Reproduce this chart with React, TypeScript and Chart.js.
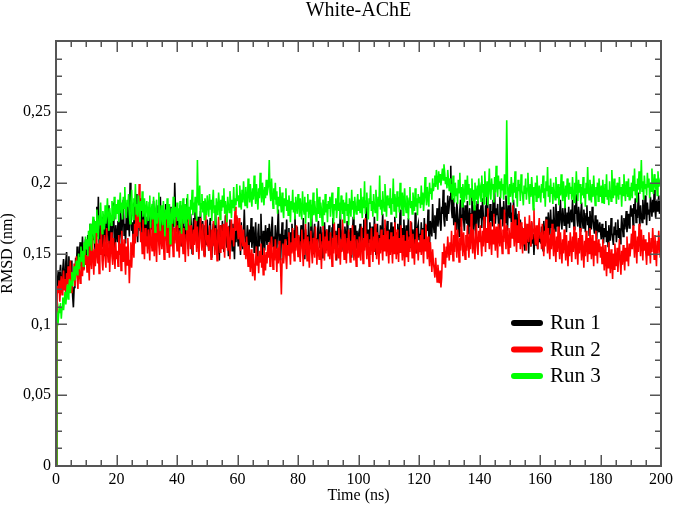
import { useEffect, useRef } from 'react';
import { Chart, registerables } from 'chart.js';

Chart.register(...registerables);

const TITLE = 'White-AChE';
const X_LABEL = 'Time (ns)';
const Y_LABEL = 'RMSD (nm)';
const SERIES_NAMES = ['Run 1', 'Run 2', 'Run 3'];
const SERIES_COLORS = ['#000000', '#ff0000', '#00ff00'];

const X_TICKS = [0, 20, 40, 60, 80, 100, 120, 140, 160, 180, 200];
const X_TICK_LABELS = ['0', '20', '40', '60', '80', '100', '120', '140', '160', '180', '200'];
const Y_TICKS = [0, 0.05, 0.1, 0.15, 0.2, 0.25, 0.3];
const Y_TICK_LABELS = ['0', '0,05', '0,1', '0,15', '0,2', '0,25', ''];

// Sampling interval of the trajectory frames (ns)
const TIME_STEP_NS = 0.25;

// RMSD per frame in picometres (0.001 nm), frame 0 first; one row per 10 ns
const RUN1_PM = [
  0,
  124, 131, 138, 129, 135, 142, 133, 127, 139, 146, 137, 130, 144, 151, 136, 141, 148, 139, 132, 145,
  138, 120, 112, 126, 134, 147, 140, 155, 143, 136, 150, 158, 141, 147, 162, 149, 139, 153, 160, 146,
  152, 163, 147, 158, 171, 155, 149, 166, 160, 174, 157, 151, 168, 183, 162, 190, 158, 149, 170, 163,
  155, 176, 161, 148, 169, 180, 158, 166, 184, 159, 153, 172, 165, 157, 177, 186, 161, 152, 170, 164,
  158, 173, 166, 152, 181, 169, 160, 177, 188, 163, 171, 157, 179, 167, 184, 174, 162, 200, 178, 166,
  172, 159, 186, 176, 163, 192, 170, 158, 181, 174, 166, 189, 177, 160, 172, 183, 168, 157, 176, 165,
  163, 178, 170, 156, 182, 167, 174, 160, 187, 172, 165, 179, 158, 170, 184, 163, 176, 190, 168, 155,
  173, 181, 162, 170, 185, 159, 175, 168, 154, 178, 166, 183, 172, 160, 177, 169, 200, 181, 165, 172,
  176, 161, 170, 184, 166, 155, 172, 180, 163, 169, 158, 177, 189, 165, 153, 171, 162, 178, 168, 150,
  166, 175, 160, 181, 171, 157, 168, 176, 152, 164, 180, 167, 158, 173, 162, 149, 170, 165, 156, 174,
  160, 152, 168, 175, 158, 147, 165, 171, 156, 163, 180, 161, 150, 167, 158, 145, 170, 162, 155, 173,
  164, 151, 159, 177, 166, 154, 162, 148, 169, 174, 157, 163, 152, 171, 160, 146, 166, 158, 176, 163,
  155, 168, 161, 149, 172, 159, 153, 165, 181, 162, 150, 157, 170, 163, 146, 167, 158, 175, 154, 161,
  169, 151, 160, 172, 157, 148, 164, 171, 155, 162, 178, 159, 147, 166, 160, 152, 170, 163, 156, 168,
  158, 171, 163, 150, 167, 176, 155, 162, 149, 170, 160, 153, 168, 181, 157, 164, 145, 161, 172, 156,
  163, 150, 167, 159, 174, 154, 161, 168, 148, 165, 158, 171, 162, 151, 166, 177, 157, 160, 169, 155,
  162, 149, 157, 170, 164, 153, 175, 160, 146, 167, 158, 163, 151, 172, 160, 155, 168, 179, 157, 150,
  164, 171, 156, 161, 148, 166, 173, 159, 154, 169, 161, 147, 165, 158, 172, 163, 152, 167, 160, 156,
  170, 157, 163, 151, 168, 175, 160, 154, 166, 158, 145, 162, 171, 156, 164, 180, 159, 152, 167, 161,
  155, 169, 163, 150, 173, 158, 165, 153, 168, 161, 147, 164, 176, 157, 162, 170, 154, 166, 159, 163,
  156, 171, 164, 152, 168, 160, 174, 157, 163, 183, 161, 150, 167, 158, 172, 165, 153, 169, 160, 155,
  176, 162, 149, 166, 171, 157, 163, 154, 170, 159, 165, 178, 156, 161, 168, 152, 164, 173, 158, 162,
  167, 155, 172, 160, 151, 169, 163, 176, 158, 165, 150, 171, 161, 157, 181, 164, 153, 168, 159, 174,
  162, 156, 170, 148, 166, 175, 160, 163, 154, 172, 158, 167, 161, 155, 179, 163, 150, 168, 171, 160,
  164, 157, 172, 160, 168, 153, 175, 163, 158, 170, 166, 181, 161, 156, 173, 168, 162, 185, 171, 165,
  177, 160, 174, 182, 169, 176, 189, 172, 166, 183, 178, 195, 174, 169, 186, 180, 173, 191, 178, 184,
  190, 212, 181, 175, 189, 170, 183, 176, 167, 186, 179, 173, 162, 181, 188, 169, 177, 190, 174, 166,
  184, 178, 171, 187, 164, 175, 182, 169, 178, 193, 171, 166, 184, 176, 162, 179, 187, 172, 168, 181,
  175, 184, 168, 189, 177, 171, 163, 184, 176, 192, 170, 178, 166, 185, 173, 180, 169, 188, 176, 194,
  171, 182, 177, 185, 172, 166, 190, 179, 174, 183, 169, 187, 177, 172, 191, 178, 166, 184, 180, 175,
  186, 172, 179, 168, 188, 175, 165, 182, 171, 163, 178, 170, 158, 174, 166, 169, 155, 167, 160, 152,
  171, 163, 158, 166, 150, 168, 161, 155, 172, 157, 164, 149, 162, 168, 156, 160, 153, 170, 158, 164,
  157, 169, 162, 152, 173, 164, 158, 176, 167, 161, 179, 170, 163, 181, 168, 174, 160, 183, 172, 166,
  185, 175, 169, 180, 164, 177, 188, 172, 167, 182, 176, 170, 186, 174, 165, 179, 171, 183, 168, 177,
  181, 172, 188, 176, 167, 184, 178, 192, 174, 169, 183, 177, 166, 179, 186, 173, 168, 181, 175, 165,
  178, 184, 170, 176, 163, 180, 172, 167, 183, 175, 169, 164, 177, 171, 160, 174, 168, 165, 172, 166,
  160, 171, 164, 157, 168, 162, 173, 158, 166, 155, 170, 163, 159, 175, 165, 161, 156, 169, 163, 172,
  158, 166, 174, 161, 168, 157, 164, 177, 169, 162, 175, 167, 171, 180, 165, 173, 178, 168, 176, 184,
  176, 182, 170, 185, 178, 189, 172, 181, 175, 193, 180, 169, 184, 177, 172, 188, 179, 174, 191, 183,
  170, 186, 178, 181, 173, 190, 184, 176, 188, 179, 195, 182, 175, 187, 180, 184, 191, 178, 186, 188,
];

const RUN2_PM = [
  0,
  118, 127, 122, 131, 116, 125, 134, 121, 129, 138, 124, 132, 119, 136, 128, 141, 126, 133, 145, 130,
  122, 137, 131, 143, 127, 139, 148, 133, 125, 144, 136, 129, 151, 140, 134, 146, 138, 155, 142, 149,
  137, 152, 144, 131, 158, 146, 139, 162, 148, 135, 153, 141, 166, 150, 143, 157, 136, 160, 149, 171,
  145, 138, 156, 163, 147, 140, 168, 152, 144, 159, 137, 154, 165, 148, 142, 161, 150, 139, 158, 146,
  152, 141, 163, 149, 157, 138, 166, 151, 144, 160, 147, 135, 155, 142, 161, 150, 129, 145, 158, 140,
  153, 164, 147, 171, 157, 183, 162, 176, 168, 199, 172, 158, 165, 150, 174, 161, 146, 168, 155, 162,
  150, 167, 158, 145, 172, 160, 152, 176, 163, 148, 169, 157, 144, 165, 178, 156, 149, 170, 161, 153,
  174, 159, 146, 167, 180, 162, 151, 171, 158, 147, 166, 155, 173, 160, 148, 168, 157, 175, 163, 152,
  170, 158, 147, 166, 155, 176, 161, 150, 168, 157, 144, 163, 172, 159, 148, 179, 165, 153, 170, 160,
  149, 167, 156, 174, 162, 151, 169, 158, 146, 164, 175, 160, 152, 171, 157, 148, 166, 178, 161, 155,
  163, 152, 170, 158, 146, 167, 155, 173, 161, 149, 168, 157, 145, 164, 176, 159, 151, 170, 162, 153,
  171, 158, 147, 166, 178, 162, 152, 169, 157, 146, 165, 174, 160, 168, 155, 172, 183, 166, 177, 169,
  160, 175, 165, 152, 170, 161, 155, 167, 149, 158, 146, 162, 151, 141, 156, 147, 137, 153, 143, 134,
  150, 139, 131, 145, 155, 142, 148, 136, 152, 144, 157, 140, 149, 135, 154, 146, 138, 151, 143, 156,
  147, 158, 141, 153, 162, 148, 139, 155, 145, 160, 150, 137, 154, 143, 159, 148, 140, 121, 146, 157,
  143, 152, 160, 147, 139, 156, 149, 165, 153, 142, 158, 150, 168, 155, 145, 161, 152, 170, 157, 148,
  163, 150, 144, 158, 167, 153, 141, 160, 149, 171, 157, 145, 162, 152, 140, 158, 166, 151, 143, 161,
  155, 147, 169, 156, 142, 160, 151, 146, 164, 153, 139, 158, 170, 154, 145, 162, 150, 167, 156, 148,
  159, 146, 165, 153, 141, 161, 150, 172, 157, 145, 163, 152, 147, 168, 155, 142, 160, 151, 174, 158,
  146, 164, 153, 143, 161, 150, 167, 156, 144, 159, 149, 170, 157, 145, 163, 151, 141, 160, 154, 147,
  162, 150, 145, 169, 156, 143, 161, 152, 175, 158, 146, 164, 153, 141, 160, 149, 168, 155, 144, 162,
  151, 171, 157, 146, 165, 154, 142, 161, 150, 167, 156, 145, 163, 152, 174, 159, 148, 166, 155, 143,
  160, 149, 165, 154, 143, 162, 150, 172, 158, 146, 167, 155, 144, 161, 151, 170, 157, 145, 163, 152,
  141, 159, 148, 166, 155, 144, 162, 151, 173, 158, 147, 164, 153, 142, 160, 150, 168, 156, 145, 158,
  151, 163, 149, 167, 155, 143, 160, 152, 171, 157, 146, 162, 150, 141, 158, 148, 137, 153, 144, 139,
  133, 147, 138, 130, 142, 135, 129, 138, 126, 133, 151, 143, 157, 148, 140, 155, 147, 162, 152, 145,
  158, 149, 166, 155, 145, 163, 151, 172, 159, 147, 167, 156, 144, 161, 152, 175, 160, 148, 165, 154,
  146, 163, 152, 170, 158, 147, 164, 153, 178, 161, 150, 167, 157, 146, 162, 171, 155, 149, 166, 158,
  170, 157, 148, 166, 155, 176, 162, 151, 168, 158, 182, 165, 153, 172, 160, 149, 167, 157, 178, 163,
  152, 169, 159, 147, 171, 161, 155, 174, 160, 150, 167, 158, 181, 164, 153, 170, 162, 150, 168, 159,
  154, 172, 161, 184, 166, 155, 174, 162, 151, 170, 158, 180, 165, 153, 172, 161, 150, 168, 157, 176,
  163, 152, 171, 164, 158, 177, 166, 155, 173, 160, 167, 182, 162, 156, 170, 159, 153, 168, 175, 161,
  165, 153, 171, 159, 148, 166, 155, 174, 161, 150, 168, 156, 146, 164, 153, 171, 159, 148, 167, 155,
  144, 162, 151, 169, 157, 146, 165, 154, 143, 160, 150, 167, 156, 145, 163, 152, 141, 159, 148, 165,
  155, 144, 162, 151, 169, 157, 146, 165, 154, 142, 161, 150, 168, 156, 145, 163, 152, 140, 159, 148,
  166, 155, 144, 161, 150, 168, 157, 146, 163, 153, 141, 159, 149, 166, 154, 143, 160, 151, 157, 147,
  155, 143, 160, 149, 138, 156, 145, 134, 151, 140, 158, 147, 136, 153, 143, 132, 150, 139, 157, 146,
  141, 154, 137, 148, 160, 144, 135, 152, 142, 156, 147, 138, 154, 145, 162, 150, 141, 157, 148, 155,
  164, 153, 170, 158, 147, 166, 155, 143, 162, 151, 171, 159, 148, 167, 156, 145, 163, 152, 160, 150,
  142, 158, 149, 165, 154, 143, 161, 151, 168, 157, 146, 163, 152, 141, 159, 150, 166, 155, 147, 151,
];

const RUN3_PM = [
  0,
  100, 106, 103, 111, 108, 115, 104, 112, 119, 110, 117, 123, 114, 121, 128, 118, 126, 132, 122, 130,
  137, 127, 134, 141, 131, 138, 145, 135, 143, 150, 139, 147, 155, 144, 152, 141, 158, 149, 162, 153,
  160, 148, 166, 155, 171, 159, 152, 168, 176, 163, 157, 173, 165, 181, 168, 160, 177, 170, 186, 172,
  164, 180, 174, 167, 184, 171, 178, 189, 175, 166, 182, 176, 170, 187, 179, 173, 190, 181, 174, 185,
  178, 188, 172, 184, 193, 179, 186, 174, 190, 182, 197, 180, 175, 188, 183, 192, 177, 171, 186, 195,
  181, 174, 189, 183, 199, 178, 185, 176, 191, 184, 172, 187, 180, 194, 176, 183, 189, 171, 182, 187,
  180, 173, 186, 191, 168, 179, 185, 174, 190, 177, 165, 182, 188, 171, 178, 193, 174, 166, 184, 179,
  170, 187, 176, 162, 181, 174, 189, 168, 178, 185, 157, 175, 182, 171, 190, 178, 169, 183, 176, 186,
  173, 182, 168, 187, 176, 164, 180, 189, 171, 178, 185, 167, 179, 192, 174, 183, 170, 188, 181, 195,
  177, 186, 179, 190, 181, 173, 216, 188, 184, 198, 176, 185, 192, 179, 187, 174, 189, 183, 177, 191,
  184, 176, 192, 181, 188, 173, 186, 195, 179, 184, 170, 189, 182, 177, 193, 185, 174, 188, 180, 191,
  183, 196, 178, 187, 181, 172, 190, 184, 179, 194, 186, 175, 188, 182, 197, 180, 189, 184, 199, 187,
  191, 183, 198, 188, 181, 195, 186, 201, 190, 184, 197, 187, 182, 203, 192, 186, 199, 190, 183, 196,
  188, 205, 193, 185, 199, 190, 181, 196, 189, 207, 194, 186, 200, 192, 184, 197, 189, 202, 191, 195,
  198, 216, 193, 187, 203, 191, 182, 196, 188, 200, 185, 194, 178, 190, 184, 197, 186, 179, 193, 182,
  175, 189, 184, 196, 180, 188, 177, 191, 185, 172, 187, 181, 195, 179, 186, 174, 190, 183, 178, 192,
  185, 176, 189, 181, 174, 194, 183, 178, 190, 171, 186, 180, 192, 175, 184, 188, 169, 182, 179, 193,
  177, 187, 181, 173, 196, 184, 178, 190, 175, 186, 181, 170, 188, 183, 177, 192, 179, 185, 172, 187,
  182, 190, 176, 187, 193, 179, 171, 185, 181, 189, 175, 183, 197, 180, 186, 174, 191, 184, 178, 188,
  172, 186, 180, 193, 177, 185, 170, 189, 183, 176, 195, 181, 187, 174, 190, 182, 178, 186, 192, 180,
  188, 179, 196, 184, 175, 190, 182, 201, 178, 187, 193, 181, 174, 189, 185, 198, 180, 187, 176, 192,
  184, 179, 195, 186, 173, 190, 183, 205, 181, 188, 177, 194, 185, 180, 199, 187, 176, 191, 184, 189,
  182, 196, 178, 189, 185, 203, 180, 192, 187, 175, 194, 183, 190, 179, 200, 186, 181, 193, 177, 188,
  196, 184, 179, 191, 186, 174, 189, 197, 182, 187, 178, 193, 185, 180, 196, 183, 189, 177, 192, 186,
  190, 182, 198, 185, 193, 180, 188, 204, 191, 184, 197, 189, 183, 200, 192, 196, 188, 203, 194, 199,
  205, 197, 209, 201, 195, 208, 200, 206, 198, 204, 210, 202, 213, 207, 199, 204, 196, 209, 201, 194,
  203, 193, 199, 188, 205, 194, 186, 200, 191, 196, 185, 202, 193, 207, 189, 197, 183, 199, 191, 186,
  202, 194, 188, 205, 192, 199, 184, 196, 190, 203, 187, 195, 181, 200, 192, 188, 198, 185, 203, 193,
  196, 187, 205, 193, 199, 185, 208, 195, 190, 201, 184, 197, 210, 192, 188, 203, 195, 199, 186, 204,
  193, 212, 198, 190, 205, 196, 201, 189, 203, 195, 199, 188, 206, 192, 198, 244, 202, 185, 194, 199,
  190, 204, 196, 186, 200, 193, 208, 189, 197, 183, 202, 194, 199, 187, 206, 195, 191, 184, 198, 192,
  203, 188, 196, 207, 193, 185, 199, 190, 204, 195, 181, 197, 191, 200, 187, 205, 193, 189, 198, 192,
  186, 199, 193, 205, 189, 196, 183, 201, 194, 211, 190, 198, 186, 203, 192, 197, 185, 200, 193, 188,
  204, 195, 189, 199, 184, 197, 191, 206, 194, 187, 201, 193, 182, 198, 190, 203, 195, 188, 200, 192,
  197, 188, 204, 193, 186, 200, 191, 208, 195, 187, 202, 193, 199, 185, 197, 191, 204, 189, 196, 183,
  200, 192, 211, 194, 188, 202, 195, 186, 199, 190, 205, 193, 184, 197, 191, 200, 187, 203, 194, 190,
  198, 186, 202, 193, 185, 199, 190, 206, 188, 195, 184, 201, 193, 187, 209, 196, 189, 203, 191, 198,
  185, 200, 194, 188, 204, 192, 197, 183, 199, 191, 206, 194, 187, 201, 195, 190, 203, 188, 197, 193,
  200, 189, 205, 194, 210, 191, 199, 186, 203, 195, 208, 192, 198, 216, 194, 201, 188, 205, 196, 199,
  191, 207, 197, 203, 189, 200, 194, 210, 198, 192, 206, 199, 195, 203, 191, 208, 197, 201, 199, 202,
];

const SERIES_PM = [RUN1_PM, RUN2_PM, RUN3_PM];

const FONT_FAMILY = "'Liberation Serif', 'Times New Roman', Times, serif";
const AXIS_COLOR = '#555555';
const MINOR_DIVISIONS = 4;

// Frame around the plot with inward-pointing major and minor ticks on all four sides
const frameTicksPlugin = {
  id: 'frameTicks',
  afterDatasetsDraw(chart: any) {
    const { ctx, chartArea } = chart;
    const { left, right, top, bottom } = chartArea;
    const xs = chart.scales.x;
    const ys = chart.scales.y;
    const majorLen = 11;
    const minorLen = 6;

    const line = (x1: number, y1: number, x2: number, y2: number) => {
      ctx.beginPath();
      ctx.moveTo(x1, y1);
      ctx.lineTo(x2, y2);
      ctx.stroke();
    };
    const minorValues = (ticks: number[]) => {
      const out: number[] = [];
      for (let i = 0; i < ticks.length - 1; i++) {
        const a = ticks[i];
        const b = ticks[i + 1];
        for (let k = 1; k < MINOR_DIVISIONS; k++) out.push(a + ((b - a) * k) / MINOR_DIVISIONS);
      }
      return out;
    };

    ctx.save();
    ctx.strokeStyle = AXIS_COLOR;
    ctx.lineWidth = 1.5;

    const xTick = (v: number, len: number) => {
      const px = Math.round(xs.getPixelForValue(v)) + 0.25;
      line(px, bottom, px, bottom - len);
      line(px, top, px, top + len);
    };
    const yTick = (v: number, len: number) => {
      const py = Math.round(ys.getPixelForValue(v)) + 0.25;
      line(left, py, left + len, py);
      line(right, py, right - len, py);
    };
    X_TICKS.forEach((v) => xTick(v, majorLen));
    minorValues(X_TICKS).forEach((v) => xTick(v, minorLen));
    Y_TICKS.forEach((v) => yTick(v, majorLen));
    minorValues(Y_TICKS).forEach((v) => yTick(v, minorLen));

    ctx.lineWidth = 2;
    ctx.strokeRect(left, top, right - left, bottom - top);
    ctx.restore();
  },
};

// Legend inside the plot, lower right, with thick rounded line samples
const insideLegendPlugin = {
  id: 'insideLegend',
  afterDraw(chart: any) {
    const { ctx, chartArea } = chart;
    const x0 = chartArea.right - 147;
    const y0 = chartArea.top + 282;
    const rowGap = 26.5;
    ctx.save();
    ctx.font = `21px ${FONT_FAMILY}`;
    ctx.textBaseline = 'middle';
    ctx.textAlign = 'left';
    chart.data.datasets.forEach((ds: any, i: number) => {
      const y = y0 + i * rowGap;
      ctx.strokeStyle = ds.borderColor;
      ctx.lineWidth = 6;
      ctx.lineCap = 'round';
      ctx.beginPath();
      ctx.moveTo(x0, y);
      ctx.lineTo(x0 + 26, y);
      ctx.stroke();
      ctx.fillStyle = '#000';
      ctx.fillText(ds.label, x0 + 36, y + 0.5);
    });
    ctx.restore();
  },
};

export default function App() {
  const canvasRef = useRef<HTMLCanvasElement | null>(null);

  useEffect(() => {
    if (!canvasRef.current) return;
    const datasets = SERIES_PM.map((values, s) => ({
      label: SERIES_NAMES[s],
      data: values.map((pm, i) => ({ x: i * TIME_STEP_NS, y: pm / 1000 })),
      borderColor: SERIES_COLORS[s],
      backgroundColor: SERIES_COLORS[s],
      borderWidth: 1.6,
      pointRadius: 0,
      tension: 0,
      fill: false,
      order: SERIES_PM.length - 1 - s,
    }));

    const tickFont = { family: FONT_FAMILY, size: 16 };
    const chart = new Chart(canvasRef.current, {
      type: 'line',
      data: { datasets },
      options: {
        responsive: false,
        animation: false,
        devicePixelRatio: 1,
        layout: { padding: { left: 0, right: 14, top: 0, bottom: 0 } },
        plugins: {
          legend: { display: false },
          tooltip: { enabled: false },
          title: {
            display: true,
            text: TITLE,
            color: '#000',
            fullSize: false,
            font: { family: FONT_FAMILY, size: 20, weight: 'normal', lineHeight: 0.85 },
            padding: { top: 2, bottom: 22 },
          },
        },
        scales: {
          x: {
            type: 'linear',
            min: 0,
            max: 200,
            afterBuildTicks: (scale: any) => {
              scale.ticks = X_TICKS.map((value) => ({ value }));
            },
            afterFit: (scale: any) => {
              scale.height = 40;
            },
            ticks: {
              autoSkip: false,
              maxRotation: 0,
              padding: 4,
              color: '#000',
              font: tickFont,
              callback: (_v: any, i: number) => X_TICK_LABELS[i],
            },
            grid: { display: false, drawTicks: false },
            border: { display: false },
            title: {
              display: true,
              text: X_LABEL,
              color: '#000',
              font: { family: FONT_FAMILY, size: 16, lineHeight: 1 },
              padding: { top: 0, bottom: 2 },
            },
          },
          y: {
            type: 'linear',
            min: 0,
            max: 0.3,
            afterBuildTicks: (scale: any) => {
              scale.ticks = Y_TICKS.map((value) => ({ value }));
            },
            afterFit: (scale: any) => {
              scale.width = 56;
            },
            ticks: {
              autoSkip: false,
              padding: 5,
              color: '#000',
              font: tickFont,
              callback: (_v: any, i: number) => Y_TICK_LABELS[i],
            },
            grid: { display: false, drawTicks: false },
            border: { display: false },
            title: {
              display: true,
              text: Y_LABEL,
              color: '#000',
              font: { family: FONT_FAMILY, size: 16, lineHeight: 1 },
              padding: { top: 0, bottom: 0 },
            },
          },
        },
      } as any,
      plugins: [frameTicksPlugin, insideLegendPlugin],
    });
    return () => chart.destroy();
  }, []);

  return (
    <div style={{ position: 'absolute', left: 0, top: 0, width: 677, height: 506, background: '#fff' }}>
      <canvas ref={canvasRef} width={677} height={506} />
    </div>
  );
}
